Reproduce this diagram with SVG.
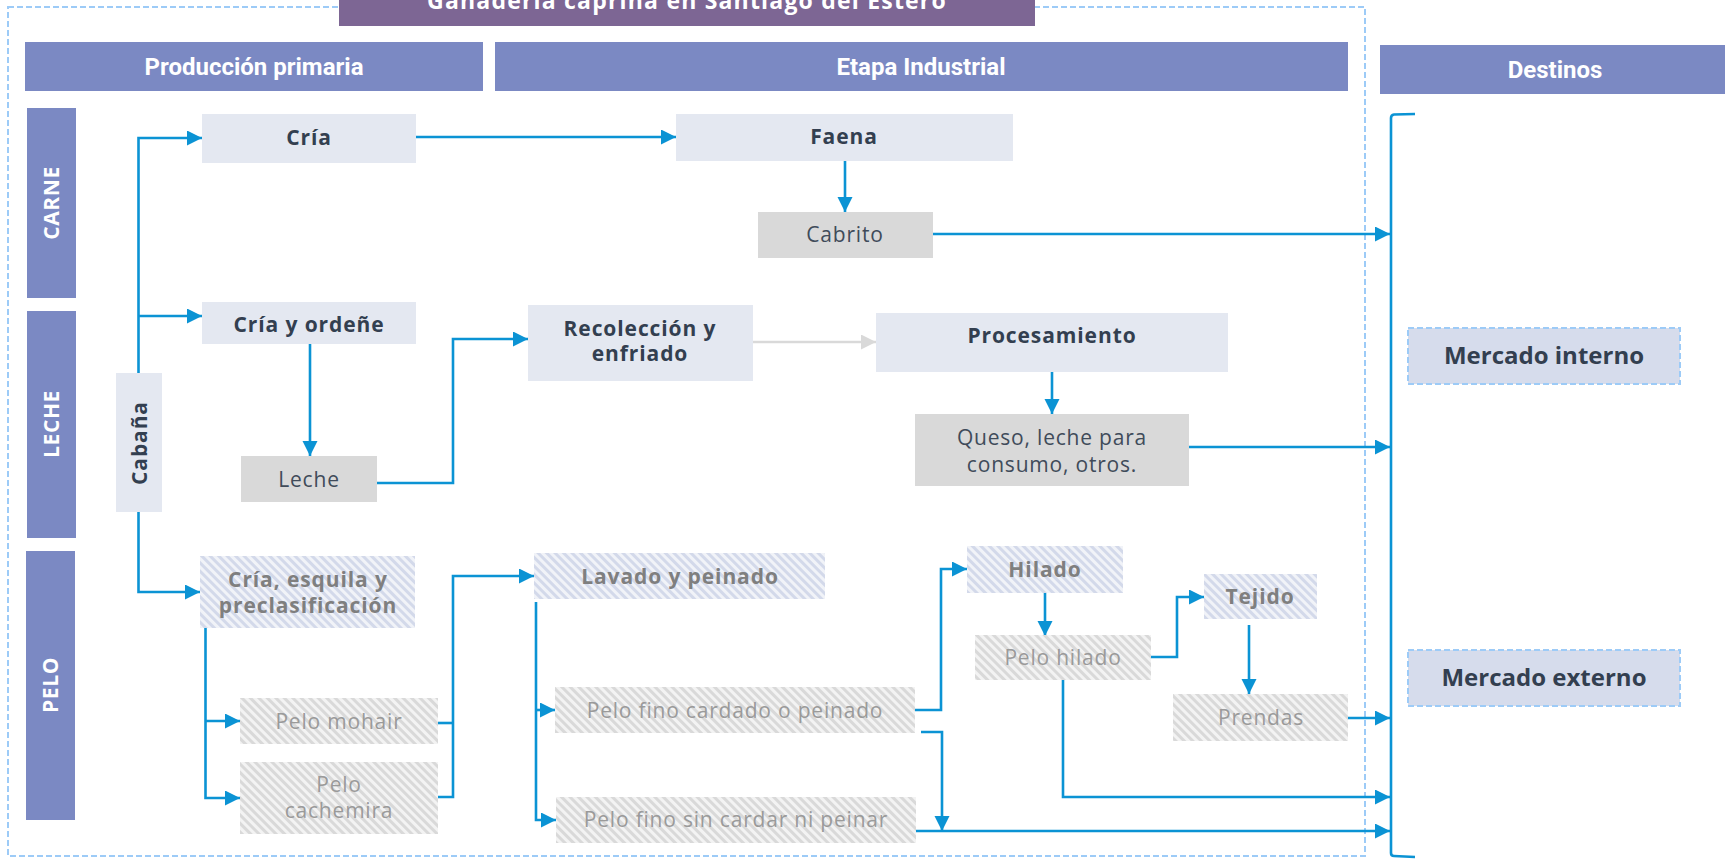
<svg xmlns="http://www.w3.org/2000/svg" width="1725" height="859" viewBox="0 0 1725 859">
<style>
.hdr{fill:#7B89C3}
.hdrt{font-family:Roboto,"Liberation Sans",sans-serif;font-weight:bold;font-size:24px;fill:#fff;text-anchor:middle}
.side{font-family:"Open Sans","Liberation Sans",sans-serif;font-weight:bold;font-size:21px;letter-spacing:0.6px;fill:#fff;text-anchor:middle}
.lt{fill:#E4E8F1}
.gr{fill:#D9D9D9}
.sl{fill:url(#stripeL)}
.sg{fill:url(#stripeG)}
.b{font-family:"Open Sans","Liberation Sans",sans-serif;font-weight:bold;font-size:21px;letter-spacing:0.9px;fill:#333F50;text-anchor:middle}
.r{font-family:"Open Sans","Liberation Sans",sans-serif;font-size:21px;letter-spacing:0.8px;fill:#404B5A;text-anchor:middle}
.bg{font-family:"Open Sans","Liberation Sans",sans-serif;font-weight:bold;font-size:21px;letter-spacing:0.9px;fill:#7F7F7F;text-anchor:middle}
.rg{font-family:"Open Sans","Liberation Sans",sans-serif;font-size:21px;letter-spacing:0.8px;fill:#9A9A9A;text-anchor:middle}
.mk{fill:#D6DCEC;stroke:#9DCBF7;stroke-width:2;stroke-dasharray:6 3}
.mkt{font-family:"Open Sans","Liberation Sans",sans-serif;font-weight:bold;font-size:24px;fill:#333F50;text-anchor:middle}
.c{fill:none;stroke:#0B93D4;stroke-width:2.6;marker-end:url(#ah)}
.cn{fill:none;stroke:#0B93D4;stroke-width:2.6}
</style>
<defs>
<pattern id="stripeL" patternUnits="userSpaceOnUse" width="6" height="6" patternTransform="rotate(-45)">
<rect width="6" height="6" fill="#F1F3F8"/><rect width="3" height="6" fill="#D3D9EA"/>
</pattern>
<pattern id="stripeG" patternUnits="userSpaceOnUse" width="6" height="6" patternTransform="rotate(-45)">
<rect width="6" height="6" fill="#F3F3F3"/><rect width="3" height="6" fill="#D9D9D9"/>
</pattern>
<marker id="ah" markerUnits="userSpaceOnUse" markerWidth="16" markerHeight="16" refX="15" refY="7.5" orient="auto">
<path d="M0,0 L15,7.5 L0,15 z" fill="#0B93D4"/>
</marker>
<marker id="ahg" markerUnits="userSpaceOnUse" markerWidth="16" markerHeight="16" refX="15" refY="7.5" orient="auto">
<path d="M0,0 L15,7.5 L0,15 z" fill="#D9D9D9"/>
</marker>
</defs>
<rect width="1725" height="859" fill="#fff"/>
<rect id="frame" x="8" y="7" width="1357" height="849" fill="none" stroke="#9DCBF7" stroke-width="2" stroke-dasharray="6 3"/>
<g id="title">
<rect x="339" y="0" width="696" height="26" fill="#7D6694"/>
<text x="687" y="9" font-family="'Open Sans','Liberation Sans',sans-serif" font-weight="bold" font-size="23" letter-spacing="1.2" fill="#fff" text-anchor="middle">Ganadería caprina en Santiago del Estero</text>
</g>
<g id="h-prod"><rect class="hdr" x="25" y="42" width="458" height="49"/><text class="hdrt" x="254" y="75">Producción primaria</text></g>
<g id="h-ind"><rect class="hdr" x="495" y="42" width="853" height="49"/><text class="hdrt" x="921" y="75">Etapa Industrial</text></g>
<g id="h-dest"><rect class="hdr" x="1380" y="45" width="350" height="49"/><text class="hdrt" x="1555" y="78">Destinos</text></g>
<g id="s-carne"><rect class="hdr" x="27" y="108" width="49" height="190"/><text class="side" transform="translate(59,203) rotate(-90)">CARNE</text></g>
<g id="s-leche"><rect class="hdr" x="27" y="311" width="49" height="227"/><text class="side" transform="translate(59,424) rotate(-90)">LECHE</text></g>
<g id="s-pelo"><rect class="hdr" x="26" y="551" width="49" height="269"/><text class="side" transform="translate(58,685) rotate(-90)">PELO</text></g>
<g id="connectors">
<path class="c" d="M138.5,373 V138 H202"/>
<path class="c" d="M138.5,316 H202"/>
<path class="c" d="M138.5,512 V592 H200"/>
<path class="c" d="M416,137 H676"/>
<path class="c" d="M845,161 V212"/>
<path class="c" d="M933,234 H1390"/>
<path class="c" d="M310,344 V456"/>
<path class="c" d="M377,483 H453 V339 H528"/>
<path d="M753,342 H876" fill="none" stroke="#D9D9D9" stroke-width="2.6" marker-end="url(#ahg)"/>
<path class="c" d="M1052,372 V414"/>
<path class="c" d="M1189,447 H1390"/>
<path class="c" d="M205.5,625 V798 H240"/>
<path class="c" d="M205.5,721 H240"/>
<path class="cn" d="M438,723 H453"/>
<path class="c" d="M438,797 H453 V576 H534"/>
<path class="c" d="M536,602 V820 H556"/>
<path class="c" d="M536,710 H555"/>
<path class="c" d="M915,710 H941 V569 H967"/>
<path class="c" d="M921,732 H942 V831"/>
<path class="c" d="M916,831 H1390"/>
<path class="c" d="M1045,593 V636"/>
<path class="c" d="M1151,657 H1177 V597 H1204"/>
<path class="c" d="M1249,625 V694"/>
<path class="c" d="M1348,718 H1390"/>
<path class="c" d="M1063,680 V797 H1390"/>
<path class="cn" d="M1415,114 L1394,114.5 Q1391,115 1391,118 V853 Q1391,856 1394,856 L1415,857"/>
</g>
<g id="n-cabana"><rect class="lt" x="116" y="373" width="46" height="139"/><text class="b" transform="translate(147,443) rotate(-90)">Cabaña</text></g>
<g id="n-cria"><rect class="lt" x="202" y="114" width="214" height="49"/><text class="b" x="309" y="145">Cría</text></g>
<g id="n-faena"><rect class="lt" x="676" y="114" width="337" height="47"/><text class="b" x="844" y="144">Faena</text></g>
<g id="n-cabrito"><rect class="gr" x="758" y="212" width="175" height="46"/><text class="r" x="845" y="242">Cabrito</text></g>
<g id="n-criaord"><rect class="lt" x="202" y="302" width="214" height="42"/><text class="b" x="309" y="332">Cría y ordeñe</text></g>
<g id="n-leche"><rect class="gr" x="241" y="456" width="136" height="46"/><text class="r" x="309" y="487">Leche</text></g>
<g id="n-recol"><rect class="lt" x="528" y="305" width="225" height="76"/><text class="b" x="640" y="336">Recolección y</text><text class="b" x="640" y="361">enfriado</text></g>
<g id="n-proc"><rect class="lt" x="876" y="313" width="352" height="59"/><text class="b" x="1052" y="343">Procesamiento</text></g>
<g id="n-queso"><rect class="gr" x="915" y="414" width="274" height="72"/><text class="r" x="1052" y="445">Queso, leche para</text><text class="r" x="1052" y="472">consumo, otros.</text></g>
<g id="n-criaesq"><rect class="sl" x="200" y="556" width="215" height="72"/><text class="bg" x="308" y="587">Cría, esquila y</text><text class="bg" x="308" y="613">preclasificación</text></g>
<g id="n-mohair"><rect class="sg" x="240" y="698" width="198" height="46"/><text class="rg" x="339" y="729">Pelo mohair</text></g>
<g id="n-cachemira"><rect class="sg" x="240" y="762" width="198" height="72"/><text class="rg" x="339" y="792">Pelo</text><text class="rg" x="339" y="818">cachemira</text></g>
<g id="n-lavado"><rect class="sl" x="534" y="553" width="291" height="46"/><text class="bg" x="680" y="584">Lavado y peinado</text></g>
<g id="n-cardado"><rect class="sg" x="555" y="687" width="360" height="46"/><text class="rg" x="735" y="718">Pelo fino cardado o peinado</text></g>
<g id="n-sincardar"><rect class="sg" x="556" y="797" width="360" height="46"/><text class="rg" x="736" y="827">Pelo fino sin cardar ni peinar</text></g>
<g id="n-hilado"><rect class="sl" x="967" y="546" width="156" height="47"/><text class="bg" x="1045" y="577">Hilado</text></g>
<g id="n-pelohilado"><rect class="sg" x="975" y="635" width="176" height="45"/><text class="rg" x="1063" y="665">Pelo hilado</text></g>
<g id="n-tejido"><rect class="sl" x="1204" y="574" width="113" height="45"/><text class="bg" x="1260" y="604">Tejido</text></g>
<g id="n-prendas"><rect class="sg" x="1173" y="694" width="175" height="47"/><text class="rg" x="1261" y="725">Prendas</text></g>
<g id="n-interno"><rect class="mk" x="1408" y="328" width="272" height="56"/><text class="mkt" x="1544" y="364">Mercado interno</text></g>
<g id="n-externo"><rect class="mk" x="1408" y="650" width="272" height="56"/><text class="mkt" x="1544" y="686">Mercado externo</text></g>
</svg>
